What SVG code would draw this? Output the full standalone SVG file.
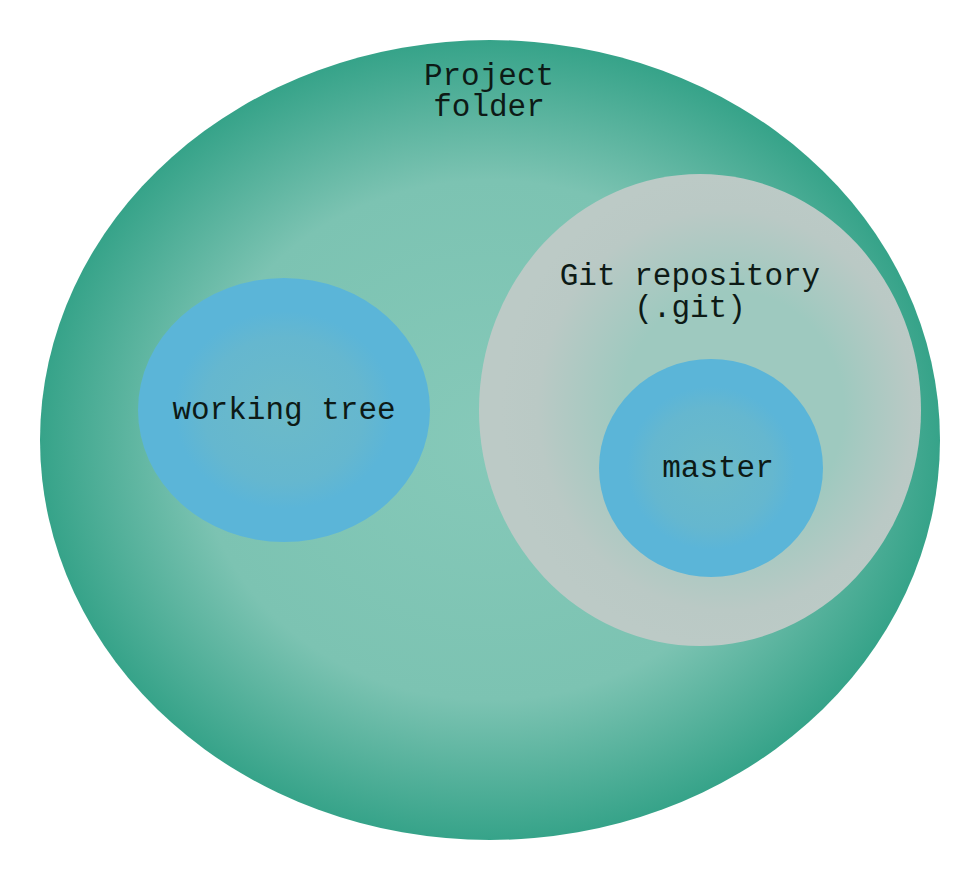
<svg xmlns="http://www.w3.org/2000/svg" width="980" height="880" viewBox="0 0 980 880">
<style>
text{font-family:"Liberation Mono","DejaVu Sans Mono",monospace;font-size:31px;fill:#0d1a16;text-anchor:middle}
</style>
<defs>
<radialGradient id="gProj" cx="50%" cy="50%" r="50%">
<stop offset="0" stop-color="#86c9b9"/>
<stop offset="0.65" stop-color="#7cc3b2"/>
<stop offset="1" stop-color="#36a389"/>
</radialGradient>
<radialGradient id="gRepo" cx="55%" cy="50%" r="50%" fx="60%" fy="50%">
<stop offset="0" stop-color="#9ec9bf"/>
<stop offset="0.5" stop-color="#9ec9bf"/>
<stop offset="0.85" stop-color="#bac9c5"/>
<stop offset="1" stop-color="#bccac6"/>
</radialGradient>
<radialGradient id="gBlue" cx="50%" cy="50%" r="50%">
<stop offset="0" stop-color="#6cbac8"/>
<stop offset="0.55" stop-color="#65b7cf"/>
<stop offset="0.75" stop-color="#5bb5d8"/>
<stop offset="1" stop-color="#5bb5d8"/>
</radialGradient>
</defs>
<g id="project-folder">
<ellipse cx="490" cy="440" rx="450" ry="400" fill="url(#gProj)"/>
<text x="489" y="85">Project</text>
<text x="489" y="116">folder</text>
</g>
<g id="git-repository">
<ellipse cx="700" cy="410" rx="221" ry="236" fill="url(#gRepo)"/>
<text x="690" y="285">Git repository</text>
<text x="690" y="317">(.git)</text>
</g>
<g id="working-tree">
<ellipse cx="284" cy="410" rx="146" ry="132" fill="url(#gBlue)"/>
<text x="284" y="419">working tree</text>
</g>
<g id="master">
<ellipse cx="711" cy="468" rx="112" ry="109" fill="url(#gBlue)"/>
<text x="718" y="477">master</text>
</g>
<g id="connectors"/>
</svg>
